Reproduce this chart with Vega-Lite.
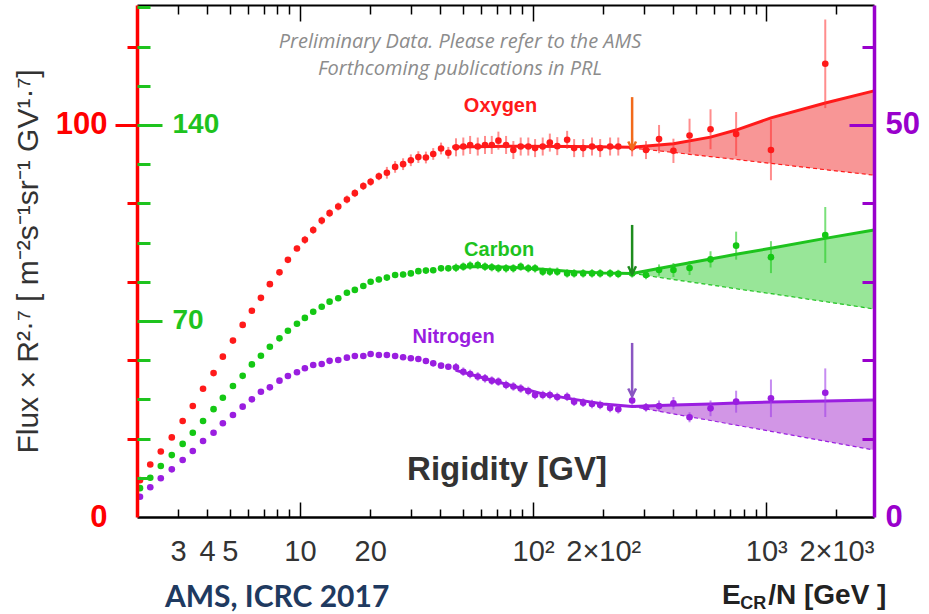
{
"$schema": "https://vega.github.io/schema/vega-lite/v6.json",
"width": 737, "height": 512,
"autosize": {"type": "none"},
"padding": {"left": 137, "top": 5, "right": 55, "bottom": 97},
"background": "white",
"config": {"view": {"stroke": null}, "axis": {"grid": false}},
"datasets": {
"pts": [
{"R":2.06,"O":9.4,"Oe":0.4,"C":10.3,"Ce":0.4,"N":2.59,"Ne":0.15},
{"R":2.28,"O":13.4,"Oe":0.4,"C":14.0,"Ce":0.4,"N":3.79,"Ne":0.15},
{"R":2.53,"O":16.7,"Oe":0.4,"C":18.2,"Ce":0.4,"N":4.94,"Ne":0.15},
{"R":2.82,"O":20.3,"Oe":0.4,"C":22.1,"Ce":0.4,"N":6.08,"Ne":0.15},
{"R":3.14,"O":24.5,"Oe":0.4,"C":26.1,"Ce":0.4,"N":7.27,"Ne":0.15},
{"R":3.47,"O":28.3,"Oe":0.4,"C":30.1,"Ce":0.4,"N":8.42,"Ne":0.15},
{"R":3.84,"O":32.7,"Oe":0.4,"C":34.3,"Ce":0.4,"N":9.69,"Ne":0.15},
{"R":4.26,"O":36.7,"Oe":0.4,"C":38.5,"Ce":0.4,"N":10.75,"Ne":0.15},
{"R":4.67,"O":40.9,"Oe":0.4,"C":42.6,"Ce":0.4,"N":11.95,"Ne":0.15},
{"R":5.16,"O":45.0,"Oe":0.4,"C":46.8,"Ce":0.4,"N":13.01,"Ne":0.15},
{"R":5.68,"O":49.0,"Oe":0.4,"C":50.4,"Ce":0.4,"N":14.07,"Ne":0.15},
{"R":6.22,"O":52.6,"Oe":0.7,"C":54.5,"Ce":0.4,"N":15.01,"Ne":0.15},
{"R":6.80,"O":55.9,"Oe":0.7,"C":57.6,"Ce":0.4,"N":15.98,"Ne":0.15},
{"R":7.43,"O":59.4,"Oe":0.7,"C":60.8,"Ce":0.4,"N":16.54,"Ne":0.15},
{"R":8.17,"O":62.4,"Oe":0.7,"C":63.8,"Ce":0.4,"N":17.39,"Ne":0.15},
{"R":8.88,"O":65.6,"Oe":0.7,"C":66.5,"Ce":0.4,"N":17.98,"Ne":0.15},
{"R":9.71,"O":68.5,"Oe":0.7,"C":69.0,"Ce":0.4,"N":18.46,"Ne":0.15},
{"R":10.5,"O":70.7,"Oe":1.0,"C":71.1,"Ce":1.0,"N":18.97,"Ne":0.35},
{"R":11.4,"O":73.2,"Oe":1.0,"C":73.3,"Ce":1.0,"N":19.39,"Ne":0.35},
{"R":12.4,"O":75.6,"Oe":1.0,"C":75.1,"Ce":1.0,"N":19.52,"Ne":0.35},
{"R":13.4,"O":77.5,"Oe":1.0,"C":76.9,"Ce":1.0,"N":19.92,"Ne":0.35},
{"R":14.6,"O":79.2,"Oe":1.0,"C":78.1,"Ce":1.0,"N":20.03,"Ne":0.35},
{"R":15.9,"O":81.0,"Oe":1.0,"C":80.1,"Ce":1.0,"N":20.32,"Ne":0.35},
{"R":17.2,"O":82.6,"Oe":1.0,"C":81.1,"Ce":1.0,"N":20.54,"Ne":0.35},
{"R":18.7,"O":84.4,"Oe":1.0,"C":82.5,"Ce":1.0,"N":20.54,"Ne":0.35},
{"R":20.1,"O":85.5,"Oe":1.0,"C":84.0,"Ce":1.0,"N":20.79,"Ne":0.35},
{"R":21.8,"O":86.9,"Oe":1.0,"C":84.8,"Ce":1.0,"N":20.66,"Ne":0.35},
{"R":23.6,"O":87.8,"Oe":1.5,"C":85.5,"Ce":1.0,"N":20.66,"Ne":0.35},
{"R":25.6,"O":89.3,"Oe":1.5,"C":86.4,"Ce":1.0,"N":20.54,"Ne":0.35},
{"R":27.7,"O":90.0,"Oe":1.5,"C":86.6,"Ce":1.0,"N":20.37,"Ne":0.35},
{"R":29.9,"O":91.0,"Oe":1.5,"C":87.0,"Ce":1.0,"N":20.24,"Ne":0.35},
{"R":32.2,"O":91.8,"Oe":1.5,"C":87.8,"Ce":1.0,"N":20.15,"Ne":0.35},
{"R":34.7,"O":91.7,"Oe":1.5,"C":88.0,"Ce":1.0,"N":19.90,"Ne":0.35},
{"R":37.3,"O":92.6,"Oe":1.5,"C":88.1,"Ce":1.0,"N":19.60,"Ne":0.35},
{"R":40.3,"O":94.0,"Oe":1.5,"C":88.8,"Ce":1.0,"N":19.30,"Ne":0.35},
{"R":43.3,"O":92.9,"Oe":1.5,"C":88.8,"Ce":1.0,"N":19.17,"Ne":0.35},
{"R":46.7,"O":94.3,"Oe":2.3,"C":89.0,"Ce":1.5,"N":19.09,"Ne":0.55},
{"R":50.2,"O":94.5,"Oe":2.3,"C":89.4,"Ce":1.5,"N":18.53,"Ne":0.55},
{"R":53.7,"O":94.9,"Oe":2.3,"C":89.8,"Ce":1.5,"N":18.24,"Ne":0.55},
{"R":57.9,"O":94.5,"Oe":2.3,"C":90.0,"Ce":1.5,"N":17.92,"Ne":0.55},
{"R":62.2,"O":94.9,"Oe":2.3,"C":89.4,"Ce":1.5,"N":17.69,"Ne":0.55},
{"R":66.5,"O":94.9,"Oe":2.3,"C":89.2,"Ce":1.5,"N":17.39,"Ne":0.55},
{"R":71.0,"O":96.0,"Oe":2.3,"C":88.8,"Ce":1.5,"N":17.26,"Ne":0.55},
{"R":76.6,"O":94.9,"Oe":2.3,"C":88.8,"Ce":1.5,"N":16.84,"Ne":0.55},
{"R":82.3,"O":93.6,"Oe":2.3,"C":88.8,"Ce":1.5,"N":16.65,"Ne":0.55},
{"R":88.5,"O":94.5,"Oe":2.3,"C":89.4,"Ce":1.5,"N":16.39,"Ne":0.55},
{"R":95.4,"O":94.5,"Oe":2.3,"C":88.8,"Ce":1.5,"N":16.07,"Ne":0.55},
{"R":102,"O":94.1,"Oe":2.3,"C":88.8,"Ce":1.5,"N":15.56,"Ne":0.55},
{"R":110,"O":94.5,"Oe":2.3,"C":87.6,"Ce":1.5,"N":15.56,"Ne":0.55},
{"R":118,"O":95.5,"Oe":2.3,"C":87.6,"Ce":1.5,"N":15.56,"Ne":0.55},
{"R":127,"O":94.6,"Oe":2.3,"C":87.6,"Ce":1.5,"N":15.31,"Ne":0.55},
{"R":140,"O":96.2,"Oe":2.3,"C":87.0,"Ce":1.5,"N":15.34,"Ne":0.55},
{"R":150,"O":94.1,"Oe":2.3,"C":87.0,"Ce":1.5,"N":14.71,"Ne":0.55},
{"R":164,"O":94.1,"Oe":2.3,"C":87.0,"Ce":1.5,"N":14.58,"Ne":0.55},
{"R":179,"O":94.5,"Oe":2.3,"C":87.0,"Ce":1.5,"N":14.41,"Ne":0.55},
{"R":194,"O":94.1,"Oe":2.3,"C":87.0,"Ce":1.5,"N":14.29,"Ne":0.55},
{"R":214,"O":94.5,"Oe":2.3,"C":87.0,"Ce":1.5,"N":13.90,"Ne":0.55},
{"R":232,"O":94.5,"Oe":2.3,"C":86.8,"Ce":1.5,"N":13.74,"Ne":0.55},
{"R":266,"O":94.3,"Oe":2.3,"C":87.0,"Ce":1.5,"N":14.86,"Ne":0.55},
{"R":305,"O":93.6,"Oe":2.3,"C":86.4,"Ce":1.5,"N":13.99,"Ne":0.55},
{"R":347,"O":96.4,"Oe":3.6,"C":88.2,"Ce":2.0,"N":14.16,"Ne":0.7},
{"R":400,"O":93.4,"Oe":3.1,"C":88.2,"Ce":2.5,"N":14.50,"Ne":0.8},
{"R":469,"O":97.3,"Oe":4.3,"C":88.9,"Ce":2.5,"N":12.72,"Ne":0.64},
{"R":577,"O":98.9,"Oe":5.1,"C":92.0,"Ce":2.9,"N":13.86,"Ne":1.0},
{"R":743,"O":97.7,"Oe":5.6,"C":96.9,"Ce":5.0,"N":14.71,"Ne":1.4},
{"R":1048,"O":93.6,"Oe":7.7,"C":92.8,"Ce":5.7,"N":15.14,"Ne":2.4},
{"R":1792,"O":115.6,"Oe":11.3,"C":100.7,"Ce":10.0,"N":15.85,"Ne":3.1}
],
"fitO": [{"R":45,"v":94.4},{"R":80,"v":94.6},{"R":150,"v":94.5},{"R":266,"v":94.3},{"R":400,"v":95.2},{"R":577,"v":96.9},{"R":743,"v":98.7},{"R":1048,"v":101.8},{"R":1792,"v":105.6},{"R":2900,"v":108.7}],
"fitC": [{"R":45,"v":89.2},{"R":60,"v":89.5},{"R":80,"v":89.2},{"R":110,"v":88.5},{"R":150,"v":87.6},{"R":200,"v":87.1},{"R":266,"v":87.0},{"R":400,"v":89.75},{"R":577,"v":92.1},{"R":743,"v":93.8},{"R":1048,"v":96.0},{"R":1792,"v":99.5},{"R":2900,"v":102.5}],
"fitN": [{"R":46.7,"v":18.7},{"R":62,"v":17.7},{"R":82,"v":16.7},{"R":110,"v":15.7},{"R":150,"v":15.0},{"R":200,"v":14.4},{"R":266,"v":14.1},{"R":400,"v":14.29},{"R":577,"v":14.41},{"R":743,"v":14.54},{"R":1048,"v":14.67},{"R":1792,"v":14.8},{"R":2900,"v":14.92}],
"band": [
{"R":266,"Ohi":94.3,"Olo":94.1,"Chi":87.0,"Clo":87.0,"Nhi":14.1,"Nlo":14.1},
{"R":400,"Ohi":95.2,"Olo":93.0,"Chi":89.75,"Clo":84.8,"Nhi":14.29,"Nlo":13.15},
{"R":577,"Ohi":96.9,"Olo":91.9,"Chi":92.1,"Clo":82.9,"Nhi":14.41,"Nlo":12.31},
{"R":743,"Ohi":98.7,"Olo":91.2,"Chi":93.8,"Clo":81.5,"Nhi":14.54,"Nlo":11.71},
{"R":1048,"Ohi":101.8,"Olo":90.2,"Chi":96.0,"Clo":79.75,"Nhi":14.67,"Nlo":10.93},
{"R":1792,"Ohi":105.6,"Olo":88.6,"Chi":99.5,"Clo":76.9,"Nhi":14.8,"Nlo":9.67},
{"R":2900,"Ohi":108.7,"Olo":87.2,"Chi":102.5,"Clo":74.3,"Nhi":14.92,"Nlo":8.55}
]
},
"layer": [
{
"layer": [
{"data": {"name": "band"}, "mark": {"type": "area", "color": "#f89696", "opacity": 1},
 "encoding": {"x": {"field": "R", "type": "quantitative", "scale": {"type": "log", "domain": [2, 2900], "nice": false}},
  "y": {"field": "Ohi", "type": "quantitative", "title": "Flux × R²·⁷ [ m⁻²s⁻¹sr⁻¹ GV¹·⁷]", "scale": {"domain": [0, 130.6], "nice": false, "zero": false}}, "y2": {"field": "Olo"}}},
{"data": {"name": "band"}, "mark": {"type": "line", "color": "#ff1a1a", "strokeWidth": 1.2, "strokeDash": [4, 3]},
 "encoding": {"x": {"field": "R", "type": "quantitative"}, "y": {"field": "Olo", "type": "quantitative", "title": "Flux × R²·⁷ [ m⁻²s⁻¹sr⁻¹ GV¹·⁷]"}}},
{"data": {"name": "fitO"}, "mark": {"type": "line", "color": "#ff1a1a", "strokeWidth": 3},
 "encoding": {"x": {"field": "R", "type": "quantitative"}, "y": {"field": "v", "type": "quantitative", "title": "Flux × R²·⁷ [ m⁻²s⁻¹sr⁻¹ GV¹·⁷]"}}},
{"data": {"name": "pts"}, "mark": {"type": "errorbar", "color": "#ff3030", "opacity": 0.55, "thickness": 2},
 "encoding": {"x": {"field": "R", "type": "quantitative"}, "y": {"field": "O", "type": "quantitative", "title": "Flux × R²·⁷ [ m⁻²s⁻¹sr⁻¹ GV¹·⁷]"}, "yError": {"field": "Oe"}}},
{"data": {"name": "pts"}, "mark": {"type": "circle", "color": "#ff1a1a", "size": 44, "opacity": 1},
 "encoding": {
  "x": {"field": "R", "type": "quantitative", "axis": {"orient": "bottom", "values": [3,4,5,6,7,8,9,10,20,30,40,50,60,70,80,90,100,200,300,400,500,600,700,800,900,1000,2000],
    "labelExpr": "datum.value === 3 ? '3' : datum.value === 4 ? '4' : datum.value === 5 ? '5' : datum.value === 10 ? '10' : datum.value === 20 ? '20' : datum.value === 100 ? '10²' : datum.value === 200 ? '2×10²' : datum.value === 1000 ? '10³' : datum.value === 2000 ? '2×10³' : ''",
    "title": null, "domainColor": "#000000", "domainWidth": 2.5, "tickColor": "#000000", "tickWidth": 1.5,
    "tickSize": {"condition": {"test": "datum.value === 10 || datum.value === 100 || datum.value === 1000", "value": -15}, "value": -8},
    "labelPadding": {"condition": {"test": "datum.value === 10 || datum.value === 100 || datum.value === 1000", "value": 35}, "value": 28},
    "labelFont": "Liberation Sans", "labelFontSize": 29, "labelColor": "#333333", "labelFlush": false, "labelOverlap": false, "labelBound": false, "zindex": 1}},
  "y": {"field": "O", "type": "quantitative", "title": "Flux × R²·⁷ [ m⁻²s⁻¹sr⁻¹ GV¹·⁷]", "axis": {"orient": "left", "values": [0,10,20,30,40,50,60,70,80,90,100,110,120,130],
    "labelExpr": "datum.value % 50 === 0 ? datum.label : ''",
    "title": "Flux × R²·⁷ [ m⁻²s⁻¹sr⁻¹ GV¹·⁷]", "titleFont": "Liberation Sans", "titleFontSize": 30, "titleFontWeight": "normal", "titleColor": "#333333", "titlePadding": 12,
    "domainColor": "#ff0000", "domainWidth": 3.5, "tickColor": "#ff0000", "tickWidth": 3,
    "tickSize": {"condition": {"test": "datum.value % 50 === 0", "value": 22}, "value": 10},
    "tickOpacity": {"condition": {"test": "datum.value === 0", "value": 0}, "value": 1},
    "labelPadding": 8, "labelFont": "Liberation Sans", "labelFontWeight": "bold", "labelFontSize": 31, "labelColor": "#ff0000", "labelBaseline": "middle", "zindex": 1}}
 }},
{"data": {"values": [{}]}, "mark": {"type": "rule", "color": "#f26a1b", "strokeWidth": 2.5},
 "encoding": {"x": {"datum": 266, "type": "quantitative"}, "y": {"datum": 107.1, "type": "quantitative"}, "y2": {"datum": 93.8}}},
{"data": {"values": [{}]}, "mark": {"type": "point", "shape": "M-1,-2L0,0L1,-2", "filled": false, "strokeWidth": 2.5, "size": 60, "color": "#f26a1b", "opacity": 1},
 "encoding": {"x": {"datum": 266, "type": "quantitative"}, "y": {"datum": 93.8, "type": "quantitative"}}},
{"data": {"values": [{}]}, "mark": {"type": "text", "text": "Oxygen", "font": "Liberation Sans", "fontWeight": "bold", "fontSize": 20, "color": "#ff1a1a", "align": "center", "baseline": "middle"},
 "encoding": {"x": {"datum": 72.5, "type": "quantitative"}, "y": {"datum": 104.8, "type": "quantitative"}}},
{"data": {"values": [{}]}, "mark": {"type": "text", "text": ["Preliminary Data. Please refer to the AMS", "Forthcoming publications in PRL"], "lineHeight": 27, "font": "Open Sans", "fontStyle": "italic", "fontSize": 20, "color": "#8c8c8c", "align": "center", "baseline": "middle"},
 "encoding": {"x": {"datum": 48.6, "type": "quantitative"}, "y": {"datum": 121.2, "type": "quantitative"}}},
{"data": {"values": [{}]}, "mark": {"type": "text", "text": "Rigidity [GV]", "font": "Liberation Sans", "fontWeight": "bold", "fontSize": 33, "color": "#333333", "align": "center", "baseline": "middle"},
 "encoding": {"x": {"datum": 77.3, "type": "quantitative"}, "y": {"datum": 12.0, "type": "quantitative"}}},
{"data": {"values": [{}]}, "mark": {"type": "text", "text": "AMS, ICRC 2017", "font": "Lato", "fontWeight": "bold", "fontSize": 30, "color": "#1f3a60", "align": "left", "baseline": "alphabetic"},
 "encoding": {"x": {"datum": 2.634, "type": "quantitative"}, "y": {"datum": -23.0, "type": "quantitative"}}},
{"data": {"values": [{}]}, "mark": {"type": "text", "text": "E", "font": "Liberation Sans", "fontWeight": "bold", "fontSize": 28, "color": "#222222", "align": "left", "baseline": "alphabetic"},
 "encoding": {"x": {"datum": 647, "type": "quantitative"}, "y": {"datum": -22.2, "type": "quantitative"}}},
{"data": {"values": [{}]}, "mark": {"type": "text", "text": "CR", "font": "Liberation Sans", "fontWeight": "bold", "fontSize": 18, "color": "#222222", "align": "left", "baseline": "alphabetic"},
 "encoding": {"x": {"datum": 773, "type": "quantitative"}, "y": {"datum": -23.4, "type": "quantitative"}}},
{"data": {"values": [{}]}, "mark": {"type": "text", "text": "/N [GeV ]", "font": "Liberation Sans", "fontWeight": "bold", "fontSize": 28, "color": "#222222", "align": "left", "baseline": "alphabetic"},
 "encoding": {"x": {"datum": 1020, "type": "quantitative"}, "y": {"datum": -22.2, "type": "quantitative"}}}
]
},
{
"layer": [
{"data": {"name": "band"}, "mark": {"type": "area", "color": "#98e698", "opacity": 1},
 "encoding": {"x": {"field": "R", "type": "quantitative", "scale": {"type": "log", "domain": [2, 2900], "nice": false}},
  "y": {"field": "Chi", "type": "quantitative", "scale": {"domain": [0, 182.84], "nice": false, "zero": false}}, "y2": {"field": "Clo"}}},
{"data": {"name": "band"}, "mark": {"type": "line", "color": "#1ec31e", "strokeWidth": 1.2, "strokeDash": [4, 3]},
 "encoding": {"x": {"field": "R", "type": "quantitative"}, "y": {"field": "Clo", "type": "quantitative"}}},
{"data": {"name": "fitC"}, "mark": {"type": "line", "color": "#1ec31e", "strokeWidth": 3},
 "encoding": {"x": {"field": "R", "type": "quantitative"}, "y": {"field": "v", "type": "quantitative"}}},
{"data": {"name": "pts"}, "mark": {"type": "errorbar", "color": "#22cc22", "opacity": 0.6, "thickness": 2},
 "encoding": {"x": {"field": "R", "type": "quantitative"}, "y": {"field": "C", "type": "quantitative"}, "yError": {"field": "Ce"}}},
{"data": {"name": "pts"}, "mark": {"type": "circle", "color": "#14c814", "size": 44, "opacity": 1},
 "encoding": {
  "x": {"field": "R", "type": "quantitative", "axis": {"orient": "top", "values": [3,4,5,6,7,8,9,10,20,30,40,50,60,70,80,90,100,200,300,400,500,600,700,800,900,1000,2000],
    "labels": false, "title": null, "domainColor": "#000000", "domainWidth": 2, "tickColor": "#000000", "tickWidth": 1.5,
    "tickSize": {"condition": {"test": "datum.value === 10 || datum.value === 100 || datum.value === 1000", "value": -16}, "value": -9}}},
  "y": {"field": "C", "type": "quantitative", "axis": {"orient": "right", "offset": -737, "values": [14,28,42,56,70,84,98,112,126,140,154,168,182],
    "labelExpr": "datum.value === 70 || datum.value === 140 ? datum.label : ''", "title": null, "domain": false,
    "tickColor": "#1ec31e", "tickWidth": 3,
    "tickSize": {"condition": {"test": "datum.value === 70 || datum.value === 140", "value": 25}, "value": 13},
    "labelPadding": 10, "labelFont": "Liberation Sans", "labelFontWeight": "bold", "labelFontSize": 28, "labelColor": "#1ec31e", "labelBaseline": "middle", "zindex": 1}}
 }},
{"data": {"values": [{}]}, "mark": {"type": "rule", "color": "#1e8c1e", "strokeWidth": 2.5},
 "encoding": {"x": {"datum": 266, "type": "quantitative"}, "y": {"datum": 104.3, "type": "quantitative"}, "y2": {"datum": 86.8}}},
{"data": {"values": [{}]}, "mark": {"type": "point", "shape": "M-1,-2L0,0L1,-2", "filled": false, "strokeWidth": 2.5, "size": 60, "color": "#1e8c1e", "opacity": 1},
 "encoding": {"x": {"datum": 266, "type": "quantitative"}, "y": {"datum": 86.8, "type": "quantitative"}}},
{"data": {"values": [{}]}, "mark": {"type": "text", "text": "Carbon", "font": "Liberation Sans", "fontWeight": "bold", "fontSize": 20, "color": "#1ec31e", "align": "center", "baseline": "middle"},
 "encoding": {"x": {"datum": 71.5, "type": "quantitative"}, "y": {"datum": 95.4, "type": "quantitative"}}}
]
},
{
"layer": [
{"data": {"name": "band"}, "mark": {"type": "area", "color": "#d296e6", "opacity": 1},
 "encoding": {"x": {"field": "R", "type": "quantitative", "scale": {"type": "log", "domain": [2, 2900], "nice": false}, "axis": null},
  "y": {"field": "Nhi", "type": "quantitative", "scale": {"domain": [0, 65.3], "nice": false, "zero": false}}, "y2": {"field": "Nlo"}}},
{"data": {"name": "band"}, "mark": {"type": "line", "color": "#9a1ee0", "strokeWidth": 1.2, "strokeDash": [4, 3]},
 "encoding": {"x": {"field": "R", "type": "quantitative", "axis": null}, "y": {"field": "Nlo", "type": "quantitative"}}},
{"data": {"name": "fitN"}, "mark": {"type": "line", "color": "#9a1ee0", "strokeWidth": 3},
 "encoding": {"x": {"field": "R", "type": "quantitative", "axis": null}, "y": {"field": "v", "type": "quantitative"}}},
{"data": {"name": "pts"}, "mark": {"type": "errorbar", "color": "#a040e8", "opacity": 0.6, "thickness": 2},
 "encoding": {"x": {"field": "R", "type": "quantitative", "axis": null}, "y": {"field": "N", "type": "quantitative"}, "yError": {"field": "Ne"}}},
{"data": {"name": "pts"}, "mark": {"type": "circle", "color": "#9a1ee0", "size": 44, "opacity": 1},
 "encoding": {
  "x": {"field": "R", "type": "quantitative", "axis": null},
  "y": {"field": "N", "type": "quantitative", "axis": {"orient": "right", "values": [0,5,10,15,20,25,30,35,40,45,50,55,60,65],
    "labelExpr": "datum.value % 25 === 0 ? datum.label : ''", "title": null,
    "domainColor": "#9900cc", "domainWidth": 3.5, "tickColor": "#9900cc", "tickWidth": 3,
    "tickSize": {"condition": {"test": "datum.value % 25 === 0", "value": -25}, "value": -12},
    "tickOpacity": {"condition": {"test": "datum.value === 0", "value": 0}, "value": 1},
    "labelPadding": 36, "labelFont": "Liberation Sans", "labelFontWeight": "bold", "labelFontSize": 31, "labelColor": "#9900cc", "labelBaseline": "middle", "zindex": 1}}
 }},
{"data": {"values": [{}]}, "mark": {"type": "rule", "color": "#8a56c2", "strokeWidth": 2.5},
 "encoding": {"x": {"datum": 266, "type": "quantitative", "axis": null}, "y": {"datum": 22.2, "type": "quantitative"}, "y2": {"datum": 15.4}}},
{"data": {"values": [{}]}, "mark": {"type": "point", "shape": "M-1,-2L0,0L1,-2", "filled": false, "strokeWidth": 2.5, "size": 60, "color": "#8a56c2", "opacity": 1},
 "encoding": {"x": {"datum": 266, "type": "quantitative", "axis": null}, "y": {"datum": 15.4, "type": "quantitative"}}},
{"data": {"values": [{}]}, "mark": {"type": "text", "text": "Nitrogen", "font": "Liberation Sans", "fontWeight": "bold", "fontSize": 20, "color": "#9a1ee0", "align": "center", "baseline": "middle"},
 "encoding": {"x": {"datum": 45.6, "type": "quantitative", "axis": null}, "y": {"datum": 22.96, "type": "quantitative"}}}
]
}
],
"resolve": {"scale": {"x": "independent", "y": "independent"}, "axis": {"x": "independent", "y": "independent"}}
}
